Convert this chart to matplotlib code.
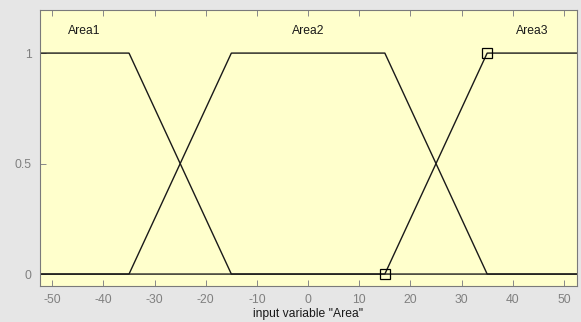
import numpy as np
import matplotlib
matplotlib.use("Agg")
import matplotlib.pyplot as plt

# Membership function names and trapezoid parameters [a, b, c, d]
mf_names = ["Area1", "Area2", "Area3"]
mf_params = [[-80.0, -60.0, -35.0, -15.0],
             [-35.0, -15.0, 15.0, 35.0],
             [15.0, 35.0, 60.0, 80.0]]
label_x = [-43.75, 0.0, 43.75]
selected_points_x = [15.0, 35.0]
selected_points_y = [0.0, 1.0]
x_ticks = [-50, -40, -30, -20, -10, 0, 10, 20, 30, 40, 50]
y_ticks = [0, 0.5, 1]
y_ticklabels = ["0", "0.5", "1"]
x_range = [-52.4, 52.5]

def trapmf(x, p):
    a, b, c, d = p
    up = np.clip((x - a) / (b - a), 0, 1)
    down = np.clip((d - x) / (d - c), 0, 1)
    return np.minimum(up, down)

plt.rcParams['font.family'] = ['Liberation Sans', 'DejaVu Sans']
fig = plt.figure(figsize=(5.81, 3.22), dpi=100)
fig.patch.set_facecolor('#e6e6e6')
ax = fig.add_axes([40/581, 1-286/322, (576.7-40)/581, (286-10)/322])
ax.set_facecolor('#ffffcc')

x = np.linspace(x_range[0], x_range[1], 2001)
for name, p, lx in zip(mf_names, mf_params, label_x):
    ax.plot(x, trapmf(x, p), color='#1a1a1a', lw=1.0)
    ax.text(lx, 1.1, name, ha='center', va='center', fontsize=8.7, color='#1a1a1a')

ax.plot(selected_points_x, selected_points_y, ls='none', marker='s', ms=6.5,
        mfc='none', mec='black', mew=0.9)

ax.set_xlim(x_range)
ax.set_ylim(-0.054, 1.195)
ax.set_xticks(x_ticks)
ax.set_xticklabels([str(t) for t in x_ticks])
ax.set_yticks(y_ticks)
ax.set_yticklabels(y_ticklabels)
ax.tick_params(axis='x', direction='in', top=True, length=4, width=0.7,
               colors='#888888', labelsize=8.7, labelcolor='#808080', pad=6)
ax.tick_params(axis='y', direction='in', length=4, width=0.7, colors='#888888',
               labelsize=8.7, labelcolor='#808080', pad=6)
for s in ax.spines.values():
    s.set_color('#7a7a7a')
    s.set_linewidth(0.8)
ax.set_xlabel('input variable "Area"', fontsize=8.7, color='#1a1a1a', labelpad=1)

fig.savefig('out.png', dpi=100, facecolor=fig.get_facecolor())
